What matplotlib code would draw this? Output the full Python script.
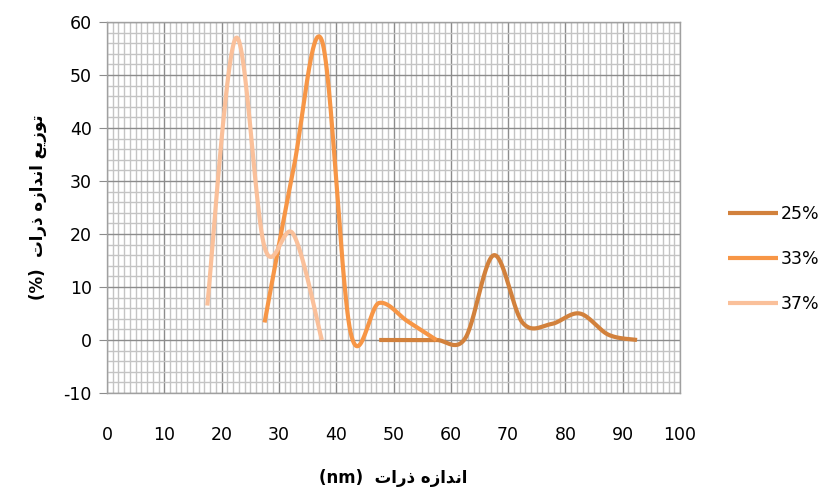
import numpy as np
import matplotlib
matplotlib.use("Agg")
import matplotlib.pyplot as plt
from matplotlib.ticker import MultipleLocator

# ---- data ----
series_names = ["25%", "33%", "37%"]
x_25 = [47.5, 52.5, 57.5, 62.5, 67.5, 72.5, 77.5, 82.5, 87.5, 92.5]
y_25 = [0, 0, 0, 0.3, 16, 3.3, 3, 5, 1, 0]
x_33 = [27.5, 32.5, 37.5, 42.5, 47.5, 52.5, 57.5]
y_33 = [3.3, 32, 56.5, 1.5, 7, 3.5, 0]
x_37 = [17.5, 22.5, 27.5, 32.5, 37.5]
y_37 = [6.5, 57, 17.5, 20, 0]
colors = ["#D2813C", "#F79646", "#FAC09A"]

x_ticks = list(range(0, 101, 10))
y_ticks = list(range(-10, 61, 10))

# Arabic-script labels, pre-shaped (presentation forms, visual order)
w_tawzi = "\uFECA\uFEF3\uFEAF\uFEEE\uFE97"      # توزیع
w_andaze = "\uFEE9\uFEAF\uFE8D\uFEAA\uFEE7\uFE8D"  # اندازه
w_zarat = "\uFE95\uFE8D\uFEAD\uFEAB"              # ذرات
xlabel = "(nm)  " + w_zarat + " " + w_andaze
ylabel = "(%)  " + w_zarat + " " + w_andaze + " " + w_tawzi


def smooth(xs, ys, n=30):
    """Excel-like smoothed line: cubic Bezier through points."""
    p = np.column_stack([xs, ys]).astype(float)
    out = []
    for i in range(len(p) - 1):
        p0 = p[i - 1] if i > 0 else p[i]
        p1 = p[i]
        p2 = p[i + 1]
        p3 = p[i + 2] if i + 2 < len(p) else p[i + 1]
        c1 = p1 + (p2 - p0) / 6.0
        c2 = p2 - (p3 - p1) / 6.0
        t = np.linspace(0, 1, n)[:, None]
        seg = ((1 - t) ** 3) * p1 + 3 * ((1 - t) ** 2) * t * c1 + 3 * (1 - t) * t ** 2 * c2 + t ** 3 * p2
        out.append(seg if i == 0 else seg[1:])
    s = np.vstack(out)
    return s[:, 0], s[:, 1]


plt.rcParams["font.family"] = ["DejaVu Sans"]
plt.rcParams["axes.unicode_minus"] = False

fig = plt.figure(figsize=(8.32, 4.91), dpi=100)
ax = fig.add_axes([107 / 832, 1 - 393 / 491, (680 - 107) / 832, (393 - 22) / 491])

for xs, ys, c, name in zip([x_25, x_33, x_37], [y_25, y_33, y_37], colors, series_names):
    sx, sy = smooth(xs, ys)
    ax.plot(sx, sy, color=c, lw=3.0, solid_capstyle="butt", label=name, zorder=3)

ax.set_xlim(0, 100)
ax.set_ylim(-10, 60)
ax.set_xticks(x_ticks)
ax.set_yticks(y_ticks)
ax.xaxis.set_minor_locator(MultipleLocator(1))
ax.yaxis.set_minor_locator(MultipleLocator(2))
ax.grid(which="major", color="#8C8C8C", lw=1.0, zorder=1)
ax.grid(which="minor", color="#C4C4C4", lw=1.0, zorder=0)
ax.set_axisbelow(True)
for s in ax.spines.values():
    s.set_color("#A0A0A0")
    s.set_linewidth(1.0)
ax.tick_params(axis="y", which="major", length=6, color="#8C8C8C", labelsize=12.5, pad=5)
ax.tick_params(axis="x", which="major", length=0, labelsize=12.5, pad=24)
ax.tick_params(which="minor", length=0)

ax.set_xlabel(xlabel, fontsize=12, fontweight="bold", labelpad=18)
ax.set_ylabel(ylabel, fontsize=12, fontweight="bold", labelpad=12)

leg = fig.legend(loc="center left", bbox_to_anchor=(728 / 832, 1 - 259 / 491), frameon=False,
                 fontsize=12.5, handlelength=2.9, handletextpad=0.15,
                 labelspacing=1.55, borderaxespad=0, borderpad=0)

fig.savefig("out.png", dpi=100)
